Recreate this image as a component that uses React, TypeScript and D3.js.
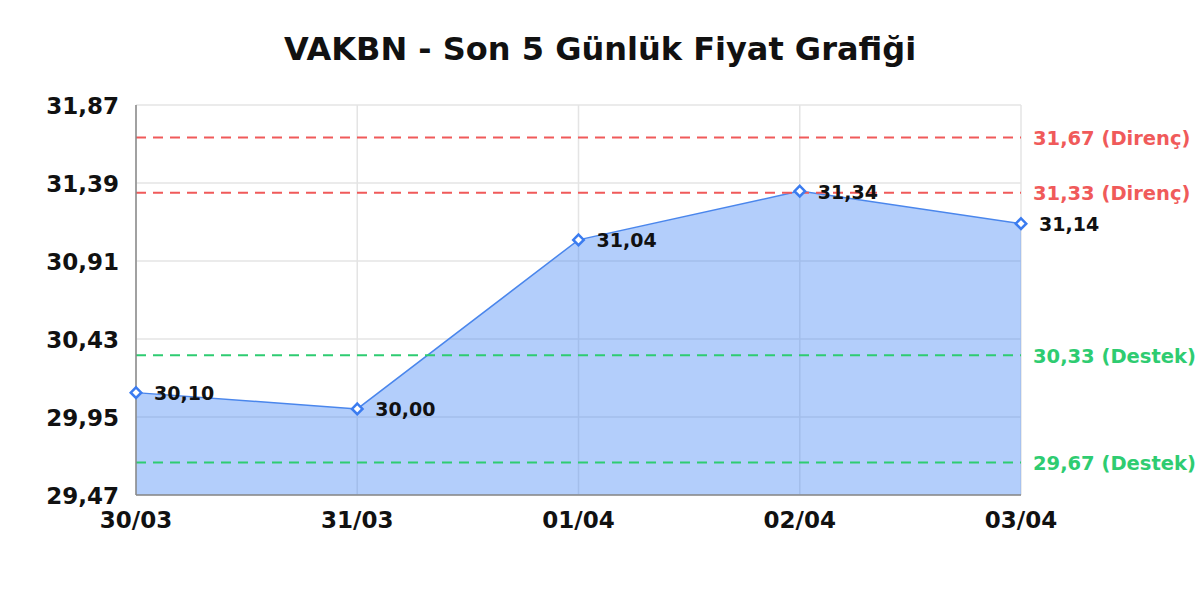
import { useEffect, useRef } from "react";
import * as d3 from "d3";

const dates = ["30/03", "31/03", "01/04", "02/04", "03/04"];
const prices = [30.10, 30.00, 31.04, 31.34, 31.14];
const yTicks = [29.47, 29.95, 30.43, 30.91, 31.39, 31.87];
const resistance = [31.67, 31.33];
const support = [30.33, 29.67];

const fmt = (v: number) => v.toFixed(2).replace(".", ",");

export default function App() {
    const svgRef = useRef<SVGSVGElement | null>(null);

    useEffect(() => {
        const width = 1200;
        const height = 600;
        const marginTop = 105;
        const marginRight = 179;
        const marginBottom = 105;
        const marginLeft = 136;
        const font = "'DejaVu Sans', sans-serif";

        const svg = d3.select(svgRef.current)
            .attr("width", width)
            .attr("height", height)
            .attr("viewBox", [0, 0, width, height].join(" "));
        svg.selectAll("*").remove();

        svg.append("rect").attr("width", width).attr("height", height).attr("fill", "#fff");

        const x = d3.scalePoint<string>()
            .domain(dates)
            .range([marginLeft, width - marginRight]);

        const y = d3.scaleLinear()
            .domain([29.47, 31.87])
            .range([height - marginBottom, marginTop]);

        // Title
        svg.append("text")
            .attr("x", width / 2)
            .attr("y", 60)
            .attr("text-anchor", "middle")
            .attr("font-family", font)
            .attr("font-weight", "bold")
            .attr("font-size", 32)
            .attr("fill", "#111")
            .text("VAKBN - Son 5 Günlük Fiyat Grafiği");

        // Grid lines
        const grid = svg.append("g");
        grid.selectAll(".hgrid")
            .data(yTicks)
            .enter()
            .append("line")
            .attr("x1", marginLeft)
            .attr("x2", width - marginRight)
            .attr("y1", d => y(d))
            .attr("y2", d => y(d))
            .attr("stroke", "#e4e4e4")
            .attr("stroke-width", 1.5);
        grid.selectAll(".vgrid")
            .data(dates)
            .enter()
            .append("line")
            .attr("x1", d => x(d)!)
            .attr("x2", d => x(d)!)
            .attr("y1", marginTop)
            .attr("y2", height - marginBottom)
            .attr("stroke", "#e4e4e4")
            .attr("stroke-width", 1.5);

        const pts = dates.map((d, i) => ({ date: d, value: prices[i] }));

        // Area under the line
        const area = d3.area<{ date: string; value: number }>()
            .x(d => x(d.date)!)
            .y0(y(29.47))
            .y1(d => y(d.value));
        svg.append("path")
            .attr("d", area(pts)!)
            .attr("fill", "#4285f4")
            .attr("fill-opacity", 0.4);

        const line = d3.line<{ date: string; value: number }>()
            .x(d => x(d.date)!)
            .y(d => y(d.value));
        svg.append("path")
            .attr("d", line(pts)!)
            .attr("fill", "none")
            .attr("stroke", "#4a86ec")
            .attr("stroke-width", 1.5);

        // Reference lines (resistance / support)
        const refs = [
            ...resistance.map(v => ({ value: v, label: `${fmt(v)} (Direnç)`, color: "#f05a5a" })),
            ...support.map(v => ({ value: v, label: `${fmt(v)} (Destek)`, color: "#2ecc71" })),
        ];
        const refG = svg.append("g");
        refG.selectAll("line")
            .data(refs)
            .enter()
            .append("line")
            .attr("x1", marginLeft)
            .attr("x2", width - marginRight)
            .attr("y1", d => y(d.value))
            .attr("y2", d => y(d.value))
            .attr("stroke", d => d.color)
            .attr("stroke-width", 1.8)
            .attr("stroke-dasharray", "10,7");
        refG.selectAll("text")
            .data(refs)
            .enter()
            .append("text")
            .attr("x", width - marginRight + 12)
            .attr("y", d => y(d.value) + 7.5)
            .attr("font-family", font)
            .attr("font-weight", "bold")
            .attr("font-size", 19.5)
            .attr("fill", d => d.color)
            .text(d => d.label);

        // Axis lines
        svg.append("line")
            .attr("x1", marginLeft).attr("x2", marginLeft)
            .attr("y1", marginTop).attr("y2", height - marginBottom)
            .attr("stroke", "#888").attr("stroke-width", 1.5);
        svg.append("line")
            .attr("x1", marginLeft).attr("x2", width - marginRight)
            .attr("y1", height - marginBottom).attr("y2", height - marginBottom)
            .attr("stroke", "#888").attr("stroke-width", 1.5);

        // Markers
        const diamond = d3.symbol().type(d3.symbolDiamond2).size(70);
        svg.selectAll(".marker")
            .data(pts)
            .enter()
            .append("path")
            .attr("class", "marker")
            .attr("d", diamond()!)
            .attr("transform", d => `translate(${x(d.date)},${y(d.value)})`)
            .attr("fill", "#fff")
            .attr("stroke", "#3b7cf0")
            .attr("stroke-width", 2.5);

        // Value labels
        svg.selectAll(".vlabel")
            .data(pts)
            .enter()
            .append("text")
            .attr("x", d => x(d.date)! + 18)
            .attr("y", d => y(d.value) + 7.5)
            .attr("font-family", font)
            .attr("font-weight", "bold")
            .attr("font-size", 19)
            .attr("fill", "#111")
            .text(d => fmt(d.value));

        // Y tick labels
        svg.selectAll(".ytick")
            .data(yTicks)
            .enter()
            .append("text")
            .attr("x", marginLeft - 17)
            .attr("y", d => y(d) + 8.5)
            .attr("text-anchor", "end")
            .attr("font-family", font)
            .attr("font-weight", "bold")
            .attr("font-size", 23)
            .attr("fill", "#111")
            .text(d => fmt(d));

        // X tick labels
        svg.selectAll(".xtick")
            .data(dates)
            .enter()
            .append("text")
            .attr("x", d => x(d)!)
            .attr("y", 528)
            .attr("text-anchor", "middle")
            .attr("font-family", font)
            .attr("font-weight", "bold")
            .attr("font-size", 23)
            .attr("fill", "#111")
            .text(d => d);
    }, []);

    return (
        <div style={{ position: "absolute", left: 0, top: 0 }}>
            <svg ref={svgRef} style={{ display: "block" }} />
        </div>
    );
}
